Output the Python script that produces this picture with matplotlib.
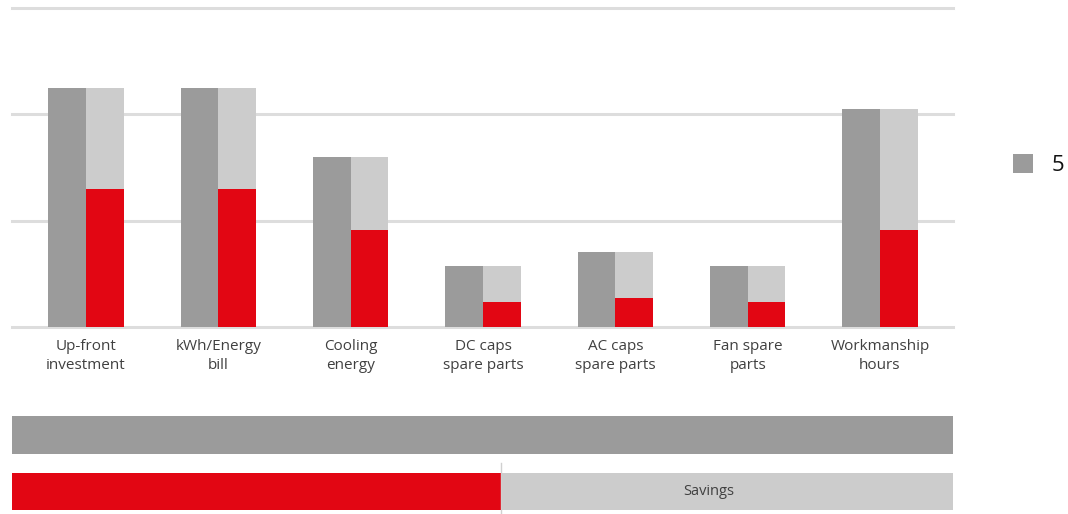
import matplotlib
matplotlib.use('Agg')
import matplotlib.pyplot as plt
import numpy as np

plt.rcParams['font.family'] = ['Open Sans', 'DejaVu Sans']

# data (one grid step = 100)
categories = ['Up-front\ninvestment', 'kWh/Energy\nbill', 'Cooling\nenergy',
              'DC caps\nspare parts', 'AC caps\nspare parts', 'Fan spare\nparts',
              'Workmanship\nhours']
before = [225, 225, 160, 57, 71, 57, 205]   # dark gray bars
after = [130, 130, 91, 23.5, 27, 23.5, 91]  # red part of the right bars
legend_label = '5'
total_before = 100
total_after = 52
savings_label = 'Savings'

DARK = '#9b9b9b'
LIGHT = '#cccccc'
RED = '#e20613'
GRID = '#dddddd'
TXT = '#404040'

W, H = 1068, 514
fig = plt.figure(figsize=(W / 100, H / 100), dpi=100)

# main grouped chart
ax = fig.add_axes([12 / W, (H - 327) / H, 941 / W, 319 / H])
x = np.arange(len(categories))
bw = 0.284
ax.bar(x - bw / 2, before, bw, color=DARK, zorder=2, label=legend_label)
ax.bar(x + bw / 2, before, bw, color=LIGHT, zorder=2)
ax.bar(x + bw / 2, after, bw, color=RED, zorder=3)

for g in [0, 100, 200, 300]:
    ax.axhline(g, color=GRID, lw=2.2, zorder=1, clip_on=False)

ax.set_ylim(0, 300)
ax.set_xlim(-(86 - 12) / 132.33, 6 + (953 - 880) / 132.33)
ax.set_xticks(x)
ax.set_xticklabels(categories, fontsize=11, color=TXT, linespacing=1.3)
ax.tick_params(axis='x', length=0, pad=9)
ax.set_yticks([])
for s in ax.spines.values():
    s.set_visible(False)

ax.legend(loc='center left', bbox_to_anchor=(1013 / W, 1 - 165 / H),
          bbox_transform=fig.transFigure, frameon=False, fontsize=16,
          handlelength=0.9, handleheight=0.9, handletextpad=0.85,
          borderpad=0, borderaxespad=0, labelcolor='#111111')

# bottom total bars
ax2 = fig.add_axes([12 / W, 0, 941 / W, 109 / H])
ax2.barh([1], [total_before], height=0.664, color=DARK)
ax2.barh([0], [total_after], height=0.664, color=RED)
ax2.barh([0], [total_before - total_after], left=total_after, height=0.664,
         color=LIGHT)
ax2.axvline(total_after, ymin=0, ymax=51 / 109, color='#d0d0d0', lw=1)
ax2.text(74, 0, savings_label, ha='center', va='center', fontsize=10.5,
         color=TXT)
ax2.set_xlim(0, total_before)
ax2.set_ylim(-22.5 / 56.5, -22.5 / 56.5 + 109 / 56.5)
ax2.axis('off')

fig.savefig('out.png', dpi=100)
